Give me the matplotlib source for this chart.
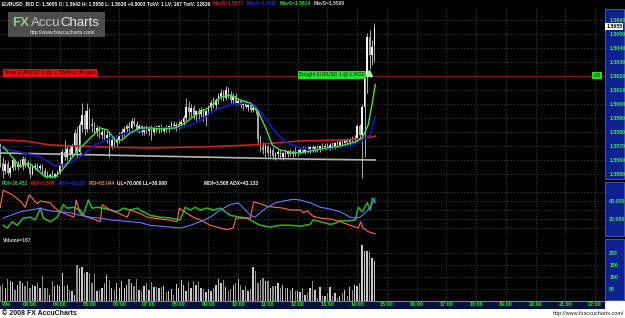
import matplotlib
matplotlib.use("Agg")
import matplotlib.pyplot as plt
from matplotlib.patches import Rectangle
from matplotlib.transforms import blended_transform_factory as blend
import numpy as np

W, H = 625, 318
plt.rcParams['font.family'] = ['Liberation Sans', 'DejaVu Sans']

# ---- data: EUR/USD 5 minute bars from 02:00, prices in pips above 1.5500 ----
bar_open = [68, 58, 52, 57, 51, 54, 60, 55, 57, 56, 61, 57,
            55, 50, 55, 56, 54, 56, 52, 49, 48, 49, 48, 50,
            51, 56, 66, 62, 68, 64, 70, 79, 66, 85, 92, 82,
            95, 86, 84, 80, 83, 78, 80, 76, 78, 70, 74, 72,
            74, 78, 80, 82, 84, 83, 88, 86, 82, 84, 80, 83,
            81, 82, 80, 83, 82, 84, 81, 83, 82, 84, 86, 84,
            85, 86, 87, 90, 98, 94, 97, 92, 95, 93, 96, 90,
            95, 98, 101, 99, 103, 106, 108, 104, 110, 106, 103, 106,
            101, 102, 99, 100, 98, 99, 96, 97, 95, 75, 69, 67,
            70, 65, 67, 63, 64, 66, 62, 65, 64, 66, 64, 66,
            65, 66, 67, 66, 68, 67, 69, 68, 69, 67, 70, 69,
            70, 69, 71, 70, 72, 71, 73, 72, 74, 73, 75, 74,
            76, 84, 78, 98, 120, 148, 135, 142]
bar_high = [72, 62, 60, 59, 56, 62, 61, 59, 61, 63, 62, 60,
            58, 57, 58, 58, 57, 57, 54, 52, 51, 53, 51, 53,
            58, 68, 74, 70, 71, 72, 82, 84, 88, 101, 96, 101,
            97, 90, 87, 85, 84, 82, 82, 81, 80, 76, 77, 76,
            80, 83, 84, 86, 87, 90, 91, 88, 86, 85, 84, 85,
            84, 85, 84, 85, 85, 86, 84, 85, 85, 88, 88, 87,
            88, 89, 92, 104, 102, 100, 99, 96, 97, 98, 97, 96,
            99, 103, 105, 104, 108, 111, 110, 113, 112, 109, 108, 108,
            104, 103, 102, 103, 101, 100, 99, 98, 96, 78, 73, 72,
            71, 69, 69, 66, 67, 68, 66, 68, 67, 68, 67, 69,
            68, 69, 70, 69, 70, 70, 71, 70, 71, 71, 72, 72,
            72, 72, 73, 73, 74, 74, 75, 75, 76, 76, 77, 78,
            86, 86, 100, 122, 151, 153, 146, 158]
bar_low = [55, 47, 50, 49, 48, 52, 53, 53, 55, 53, 55, 54,
           47, 49, 53, 52, 53, 50, 48, 47, 47, 47, 47, 48,
           50, 55, 60, 60, 61, 62, 66, 62, 64, 80, 78, 80,
           82, 80, 78, 77, 76, 75, 74, 72, 62, 68, 69, 70,
           72, 76, 77, 79, 80, 82, 84, 80, 79, 78, 78, 79,
           78, 74, 78, 80, 79, 80, 79, 80, 80, 82, 82, 81,
           82, 83, 85, 88, 90, 91, 89, 88, 89, 91, 88, 84,
           93, 95, 97, 96, 100, 103, 102, 103, 104, 101, 100, 99,
           99, 97, 96, 97, 95, 94, 94, 93, 72, 66, 64, 62,
           63, 62, 61, 60, 62, 61, 60, 62, 62, 63, 62, 63,
           63, 64, 65, 64, 65, 65, 66, 66, 66, 66, 67, 67,
           68, 67, 68, 68, 69, 69, 70, 70, 71, 71, 72, 72,
           73, 76, 47, 62, 108, 125, 128, 130]
bar_close = [58, 52, 57, 51, 54, 60, 55, 57, 56, 61, 57, 55,
             50, 55, 56, 54, 56, 52, 49, 48, 49, 48, 50, 51,
             56, 66, 62, 68, 64, 70, 79, 66, 85, 92, 82, 95,
             86, 84, 80, 83, 78, 80, 76, 78, 70, 74, 72, 74,
             78, 80, 82, 84, 83, 88, 86, 82, 84, 80, 83, 81,
             82, 80, 83, 82, 84, 81, 83, 82, 84, 86, 84, 85,
             86, 87, 90, 98, 94, 97, 92, 95, 93, 96, 90, 95,
             98, 101, 99, 103, 106, 108, 104, 110, 106, 103, 106, 101,
             102, 99, 100, 98, 99, 96, 97, 95, 75, 69, 67, 70,
             65, 67, 63, 64, 66, 62, 65, 64, 66, 64, 66, 65,
             66, 67, 66, 68, 67, 69, 68, 69, 67, 70, 69, 70,
             69, 71, 70, 72, 71, 73, 72, 74, 73, 75, 74, 76,
             84, 78, 98, 120, 148, 135, 141, 155]
volume = [60, 70, 53, 90, 84, 77, 46, 67, 80, 74, 60, 80,
          53, 67, 60, 74, 53, 102, 53, 53, 25, 80, 60, 67,
          60, 114, 60, 67, 46, 39, 25, 149, 135, 142, 117, 121,
          114, 74, 110, 39, 46, 53, 74, 107, 86, 53, 46, 74,
          53, 84, 53, 67, 90, 74, 63, 90, 46, 39, 60, 74,
          46, 77, 57, 57, 53, 57, 60, 35, 39, 49, 25, 71,
          53, 86, 67, 42, 77, 53, 84, 67, 77, 53, 49, 35,
          49, 39, 53, 67, 90, 74, 86, 57, 39, 49, 67, 74,
          90, 67, 46, 60, 39, 49, 142, 125, 74, 86, 93, 80,
          83, 53, 60, 63, 74, 53, 67, 53, 53, 46, 53, 39,
          39, 35, 53, 25, 32, 53, 80, 43, 11, 57, 18, 18,
          31, 57, 18, 31, 11, 18, 31, 43, 18, 57, 43, 65,
          63, 74, 232, 205, 205, 208, 177, 167]

# moving averages (hour, pips)
ma_green_t = [2.10, 2.34, 2.67, 2.94, 3.18, 3.51, 3.85, 4.08, 4.35, 4.69, 5.03, 5.36,
              5.60, 5.87, 6.10, 6.37, 6.71, 7.04, 7.38, 7.88, 8.22, 8.56, 8.72, 9.06,
              9.40, 9.73, 10.07, 10.41, 10.68, 10.91, 11.15, 11.41, 11.75, 12.09, 12.76,
              13.43, 13.94, 14.17, 14.37, 14.51, 14.61]
ma_green_p = [69.3, 63.6, 55.0, 57.9, 54.3, 47.9, 47.9, 52.9, 60.0, 68.6, 75.7, 82.9,
              81.4, 74.3, 74.3, 79.3, 82.9, 82.9, 82.1, 82.9, 86.4, 92.1, 94.3, 97.9,
              105.0, 106.4, 102.9, 100.7, 94.3, 83.6, 70.7, 67.1, 65.7, 65.0, 67.9,
              70.0, 72.9, 75.7, 85.0, 100.7, 114.0]
ma_blue_t = [2.00, 2.67, 3.34, 3.85, 4.35, 4.69, 5.19, 5.70, 6.37, 7.04, 7.72, 8.22,
             8.72, 9.23, 9.73, 10.24, 10.57, 10.91, 11.25, 11.58, 12.09, 12.42, 13.10,
             13.77, 14.10, 14.44, 14.61]
ma_blue_p = [68.6, 65.7, 62.1, 55.7, 57.9, 62.1, 70.7, 75.7, 80.0, 82.9, 82.9, 83.6,
             87.9, 95.7, 99.3, 100.7, 99.3, 90.0, 80.0, 72.9, 68.6, 67.1, 68.6,
             70.0, 72.9, 77.9, 91.0]
ma_red_t = [2.00, 2.84, 3.68, 5.36, 7.04, 8.72, 10.41, 12.09, 13.43, 14.10, 14.61]
ma_red_p = [74.3, 73.6, 70.7, 69.3, 68.6, 69.3, 70.7, 73.6, 74.3, 75.0, 77.0]
ma_gray_t = [2.00, 5.36, 8.72, 12.09, 14.61]
ma_gray_p = [65.0, 63.6, 62.1, 60.7, 60.0]

# directional movement indicator (hour, value)
mdi_t = [2.00, 2.10, 2.40, 2.67, 2.84, 2.97, 3.24, 3.35, 3.68, 3.85, 4.02, 4.25, 4.48,
         4.55, 4.69, 4.93, 5.13, 5.36, 5.43, 5.70, 5.93, 6.27, 6.37, 6.71, 6.94, 7.14,
         7.38, 7.62, 7.95, 8.02, 8.29, 8.49, 8.72, 9.06, 9.40, 9.63, 9.83, 9.93, 10.41,
         10.52, 10.74, 10.98, 11.25, 11.52, 11.75, 12.09, 12.19, 12.32, 12.52, 12.76,
         13.10, 13.43, 13.77, 14.04, 14.12, 14.20, 14.37, 14.61]
mdi_v = [33, 52, 47, 40, 33, 47, 37, 40, 38, 32, 28, 25, 22,
         41, 26, 22, 20, 17, 36, 30, 27, 22, 30, 26, 22, 21,
         20, 19, 17, 32, 26, 22, 19, 13, 10, 8, 10, 21, 21,
         39, 37, 34, 33, 32, 30, 30, 27, 29, 23, 21,
         20, 17, 13, 10, 17, 10, 6, 3.5]
adx_t = [2.10, 2.34, 2.67, 3.01, 3.35, 3.68, 4.02, 4.35, 4.69, 5.03, 5.36, 5.70, 6.03,
         6.37, 6.71, 7.04, 7.38, 7.72, 8.05, 8.39, 8.72, 9.06, 9.40, 9.73, 10.00, 10.24,
         10.41, 10.57, 10.74, 10.98, 11.25, 11.52, 11.85, 12.09, 12.42, 12.76, 13.10,
         13.43, 13.77, 13.94, 14.10, 14.27, 14.44, 14.61]
adx_v = [21, 24, 28, 30, 32, 29, 28, 27, 24, 22, 21, 19, 18,
         17, 16, 13, 12, 11, 10, 13, 17, 22, 30, 36, 38, 30,
         24, 22, 27, 33, 38, 40, 42, 41, 38, 33, 31,
         28, 22, 21, 22, 27, 33, 43.1]
pdi_t = [2.10, 2.24, 2.40, 2.57, 2.77, 3.01, 3.18, 3.35, 3.45, 3.68, 3.92, 4.12, 4.25,
         4.45, 4.69, 4.79, 4.96, 5.09, 5.26, 5.46, 5.70, 5.93, 6.14, 6.37, 6.61, 6.81,
         7.04, 7.38, 7.72, 8.05, 8.22, 8.39, 8.56, 8.72, 8.96, 9.16, 9.40, 9.57, 9.73,
         10.07, 10.31, 10.51, 10.74, 11.08, 11.41, 11.75, 12.09, 12.42, 12.52, 12.76,
         13.10, 13.33, 13.43, 13.77, 13.94, 14.04, 14.17, 14.24, 14.34, 14.44, 14.51, 14.61]
pdi_v = [13, 10, 17, 13, 21, 22, 19, 32, 21, 17, 22, 36, 32,
         33, 30, 24, 41, 32, 33, 32, 30, 28, 32, 30, 32, 28,
         24, 22, 21, 19, 33, 30, 33, 30, 32, 30, 32, 28, 24,
         22, 21, 17, 13, 11, 13, 13, 12, 14, 19, 17,
         14, 16, 18, 18, 19, 33, 28, 32, 38, 30, 43, 38.5]

hour_labels = ['03:00', '04:00', '05:00', '06:00', '07:00', '08:00', '09:00', '10:00',
               '11:00', '12:00', '13:00', '14:00', '15:00', '16:00', '17:00', '18:00',
               '19:00', '20:00', '21:00', '22:00']
price_ticks = [50, 60, 70, 80, 90, 100, 110, 120, 130, 140, 150, 160]
vol_ticks = [50, 100, 150, 200]
ind_ticks = [10, 20, 30, 40, 50]

# ---- layout (pixels) ----
T0, T1 = 3 - 30 / 29.74, 3 + 575 / 29.74
bar_t = 2 + np.arange(len(bar_close)) / 12.0
o, hi, lo, c = map(np.array, (bar_open, bar_high, bar_low, bar_close))

fig = plt.figure(figsize=(W / 100, H / 100), dpi=100, facecolor='black')
renderer = fig.canvas.get_renderer()


def ftext(x, y, s, color='white', size=3.7, **kw):
    kw.setdefault('va', 'center')
    kw.setdefault('fontweight', 'bold')
    return fig.text(x / W, 1 - y / H, s, color=color, fontsize=size, **kw)


def chain(x, y, parts, size, gap=2.5, **kw):
    # place coloured text pieces one after another on a line
    for s, col in parts:
        t = ftext(x, y, s, color=col, size=size, **kw)
        x = t.get_window_extent(renderer).x1 + gap


def frect(x0, y0, x1, y1, **kw):
    fig.add_artist(Rectangle((x0 / W, 1 - y1 / H), (x1 - x0) / W, (y1 - y0) / H,
                             transform=fig.transFigure, **kw))


def panel(top, bottom, ylim, ticks, labels):
    ax = fig.add_axes([0, 1 - bottom / H, 605 / W, (bottom - top) / H])
    ax.set_facecolor('black')
    for sp in ax.spines.values():
        sp.set_visible(False)
    ax.set_xlim(T0, T1)
    ax.set_ylim(*ylim)
    ax.set_xticks(np.arange(3, 23))
    ax.tick_params(axis='x', length=0, labelbottom=False)
    ax.yaxis.tick_right()
    ax.set_yticks(ticks, labels)
    ax.tick_params(axis='y', length=0, pad=3, labelsize=3.8, labelcolor='#4ee84e')
    for lb in ax.get_yticklabels():
        lb.set_fontweight('bold')
    ax.grid(True, color='#3a3a3a', lw=0.6, ls=(0, (2, 2)))
    ax.set_axisbelow(True)
    # blue scale box on the right
    frect(605, top + 1, 624, bottom - 1, facecolor='#0c2290', edgecolor='#6070d0',
          lw=0.5, zorder=-1)
    return ax


# ---- price panel ----
axp = panel(8, 180, (45.7, 168.6), price_ticks,
            [f"{1.55 + p / 1e4:.4f}" for p in price_ticks])
up = c >= o
axp.vlines(bar_t, lo, hi, color='#c8c8c8', lw=0.6, zorder=2)
axp.bar(bar_t, np.maximum(np.abs(c - o), 0.6), bottom=np.minimum(o, c), width=0.05,
        color=np.where(up, '#f4f4f4', '#a8a8a8'), zorder=3)
axp.plot(ma_gray_t, ma_gray_p, color='#b4b4b4', lw=1.2, zorder=4)
axp.plot(ma_red_t, ma_red_p, color='#cc2020', lw=1.2, zorder=4)
axp.plot(ma_blue_t, ma_blue_p, color='#1818b0', lw=1.3, zorder=4)
axp.plot(ma_green_t, ma_green_p, color='#44e044', lw=1.0, zorder=5)
axp.axhline(120.3, color='#7a1c1c', lw=0.8, zorder=1)
axp.text(2.15, 122.3, 'Stop EURUSD 1 @  1.5606 in 30 pips', color='#2a0000', fontsize=3.9,
         va='center', ha='left', zorder=6,
         bbox=dict(boxstyle='square,pad=0.25', fc='#e01010', ec='none'))
axp.text(14.25, 120.8, 'Bought EURUSD 1 @ 1.5620', color='#003000', fontsize=3.6,
         va='center', ha='right', zorder=6,
         bbox=dict(boxstyle='square,pad=0.25', fc='#22e022', ec='none'))
axp.plot([14.40], [122.3], marker='^', color='#90ff90', ms=4, zorder=6)
axp.text(22.2, 120.6, '+35', color='#003000', fontsize=3.4, va='center', ha='right',
         bbox=dict(boxstyle='square,pad=0.2', fc='#22e022', ec='none'))
axp.text(1.002, 155.5, '1.5655', transform=blend(axp.transAxes, axp.transData),
         color='black', fontsize=3.8, fontweight='bold', va='center', ha='left', zorder=7,
         bbox=dict(boxstyle='square,pad=0.15', fc='white', ec='none'), clip_on=False)

# ---- indicator panel ----
axi = panel(181, 237, (0, 62.2), ind_ticks, ['', '20.000', '', '40.000', ''])
axi.plot(pdi_t, pdi_v, color='#2ea82e', lw=1.2)
axi.plot(mdi_t, mdi_v, color='#ff6a5a', lw=0.8)
axi.plot(adx_t, adx_v, color='#6c78ff', lw=0.8)

# ---- volume panel ----
axv = panel(238, 300.7, (0, 261), vol_ticks, [str(v) for v in vol_ticks])
axv.bar(bar_t, volume, width=0.045, color=np.where(up, '#c8c8c8', '#8e8e8e'))

# ---- time strip ----
axt = fig.add_axes([0, 1 - 308.5 / H, 605 / W, 7.8 / H])
axt.set_facecolor('#00103c')
for sp in axt.spines.values():
    sp.set_visible(False)
axt.spines['top'].set_visible(True)
axt.spines['top'].set_color('#30c030')
axt.set_xlim(T0, T1)
axt.set_xticks([])
axt.set_yticks([])
for h, lab in zip(range(3, 23), hour_labels):
    axt.text(h, 0.45, lab, transform=blend(axt.transData, axt.transAxes), ha='center',
             va='center', color='#22f022', fontsize=3.9, fontweight='bold')
axt.text(2.05, 0.45, 'We', transform=blend(axt.transData, axt.transAxes), ha='left',
         va='center', color='#22f022', fontsize=3.9, fontweight='bold')

# white footer and corner
frect(0, 308.5, 625, 318, facecolor='white', edgecolor='none', zorder=-1)
frect(605, 300.5, 625, 308.5, facecolor='white', edgecolor='none', zorder=-1)
ftext(2, 313.5, '\u00a9 2008 FX AccuCharts', color='#101010', size=5)
ftext(624, 314, 'http://www.fxaccucharts.com/', color='#202020', size=4,
      ha='right', fontweight='normal')

# ---- header texts ----
chain(2, 3.5, [('EURUSD_BID C: 1.5655 O: 1.5642 H: 1.5658 L: 1.5630 +0.0003 TckV: 1 '
                'LV: 167 TotV: 12639', 'white'),
               ('MovS=1.5577', '#e02020'), ('MovS=1.5591', '#2030e0'),
               ('MovS=1.5614', '#30e030'), ('MovS=1.5560', '#d0d0d0')], 3.55)
chain(2, 183.5, [('PDI=38.452', '#30d030'), ('MDI=3.508', '#e02020'),
                 ('ADX=43.133', '#2030e0'), ('RSI=83.044', '#f09020'),
                 ('UL=70.000 LL=30.000', 'white')], 3.5)
ftext(204, 183.5, 'MDI=3.508 ADX=43.133', color='white', size=3.5)
ftext(3, 240.5, 'Volume=167', color='#d0d0d0', size=3.5)

# ---- logo ----
frect(8, 12, 105, 37, facecolor='#8a8a8a', alpha=0.55, edgecolor='none', zorder=8)
x = 12
for s, col, gap in [('FX', '#9ccc7c', 2), ('Accu', '#c4c4c4', 0), ('Charts', '#e8e8e8', 0)]:
    t = ftext(x, 22.5, s, color=col, size=9.5, zorder=9,
              fontweight='bold' if s == 'FX' else 'normal')
    x = t.get_window_extent(renderer).x1 + gap
ftext(30, 32.5, 'http://www.fxaccucharts.com/', color='#f0f0f0', size=3.6,
      fontweight='normal', zorder=9)

fig.savefig('out.png', dpi=100, facecolor='black')
